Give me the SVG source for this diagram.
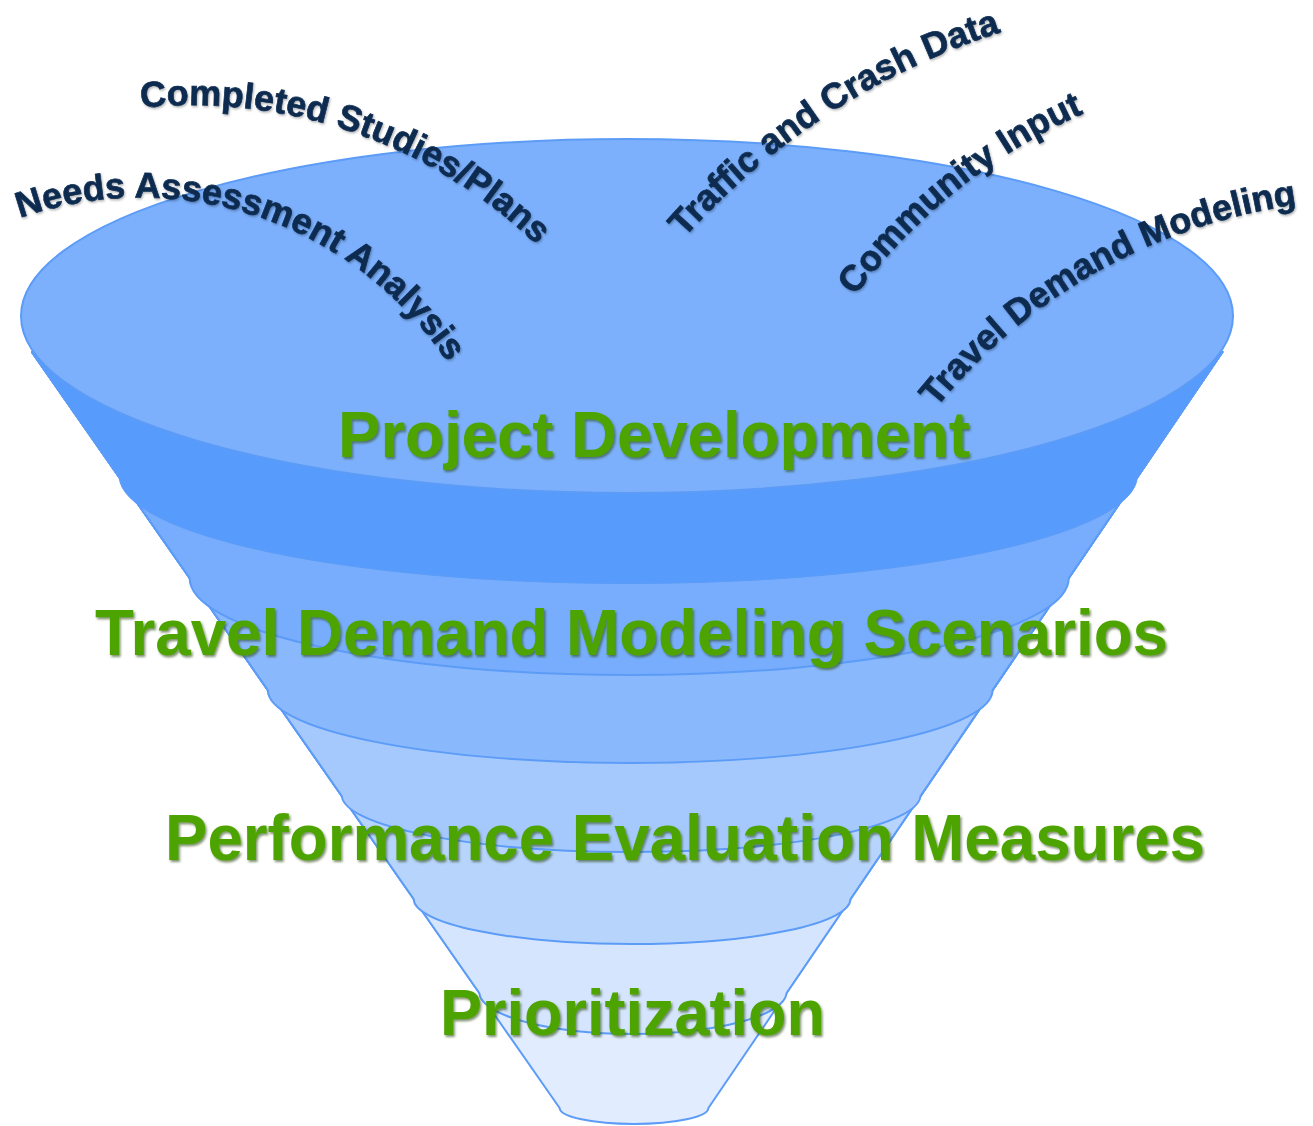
<svg xmlns="http://www.w3.org/2000/svg" width="1313" height="1126" viewBox="0 0 1313 1126">
  <style>
    .band { stroke: #5C9CF7; stroke-width: 2; stroke-linejoin: round; }
    .stage { font-family: "Liberation Sans", Arial, sans-serif; font-weight: bold; font-size: 64px; fill: #4DA400; filter: url(#shadow); }
    .input { font-family: "Liberation Sans", Arial, sans-serif; font-weight: bold; font-size: 36px; fill: #0A2A50; stroke: #0A2A50; stroke-width: 0.7; filter: url(#shadow2); }
  </style>
  <defs>
    <filter id="shadow" x="-5%" y="-20%" width="110%" height="150%">
      <feDropShadow dx="1.5" dy="2" stdDeviation="1" flood-color="#2A4A10" flood-opacity="0.6"/>
    </filter>
    <filter id="shadow2" x="-5%" y="-20%" width="110%" height="150%">
      <feDropShadow dx="1" dy="1.5" stdDeviation="0.8" flood-color="#000000" flood-opacity="0.3"/>
    </filter>
    <path id="p-needs" d="M 20,218 A 368 368 0 0 1 450,366"/>
    <path id="p-completed" d="M 141,108 A 496 496 0 0 1 540,248"/>
    <path id="p-traffic" d="M 684,238 A 725 725 0 0 1 1014,28"/>
    <path id="p-community" d="M 855,296 A 576 576 0 0 1 1096,108"/>
    <path id="p-tdm" d="M 936,408 A 561 561 0 0 1 1312,203"/>
  </defs>

  <g id="funnel">
    <path id="band-h" class="band" fill="#E1ECFE" d="M 31.9,352 L 559.6,1108 A 74.4 16 0 0 0 708.4,1108 L 1222.4,352 Z"/>
    <path id="band-g" class="band" fill="#D5E5FE" d="M 31.9,352 L 479.3,993 A 153.7 42 0 0 0 786.6,993 L 1222.4,352 Z"/>
    <path id="band-f" class="band" fill="#B7D4FD" d="M 31.9,352 L 413.7,899 A 218.4 45 0 0 0 850.5,899 L 1222.4,352 Z"/>
    <path id="band-e" class="band" fill="#A6C9FD" d="M 31.9,352 L 341.8,796 A 289.4 57 0 0 0 920.5,796 L 1222.4,352 Z"/>
    <path id="band-d" class="band" fill="#8AB8FC" d="M 31.9,352 L 267.8,690 A 362.4 73 0 0 0 992.6,690 L 1222.4,352 Z"/>
    <path id="band-c" class="band" fill="#77ADFC" d="M 31.9,352 L 189.6,578 A 439.6 97 0 0 0 1068.8,578 L 1222.4,352 Z"/>
    <path id="band-b" class="band" fill="#579BFC" style="stroke-width:1" d="M 31.9,352 L 119.1,477 A 509.2 108 0 0 0 1137.4,477 L 1222.4,352 Z"/>
    <ellipse id="rim" cx="627" cy="316" rx="606" ry="177" fill="#7CB0FC" stroke="#5C9CF7" stroke-width="2"/>
  </g>

  <g id="input-needs"><text class="input"><textPath href="#p-needs">Needs Assessment Analysis</textPath></text></g>
  <g id="input-completed"><text class="input"><textPath href="#p-completed">Completed Studies/Plans</textPath></text></g>
  <g id="input-traffic"><text class="input"><textPath href="#p-traffic">Traffic and Crash Data</textPath></text></g>
  <g id="input-community"><text class="input"><textPath href="#p-community">Community Input</textPath></text></g>
  <g id="input-tdm"><text class="input"><textPath href="#p-tdm">Travel Demand Modeling</textPath></text></g>

  <g id="stage-project"><text class="stage" x="338" y="457" textLength="632" lengthAdjust="spacingAndGlyphs">Project Development</text></g>
  <g id="stage-tdm"><text class="stage" x="95" y="655" textLength="1073" lengthAdjust="spacingAndGlyphs">Travel Demand Modeling Scenarios</text></g>
  <g id="stage-performance"><text class="stage" x="165" y="860" textLength="1040" lengthAdjust="spacingAndGlyphs">Performance Evaluation Measures</text></g>
  <g id="stage-prioritization"><text class="stage" x="440" y="1035" textLength="385" lengthAdjust="spacingAndGlyphs">Prioritization</text></g>
</svg>
